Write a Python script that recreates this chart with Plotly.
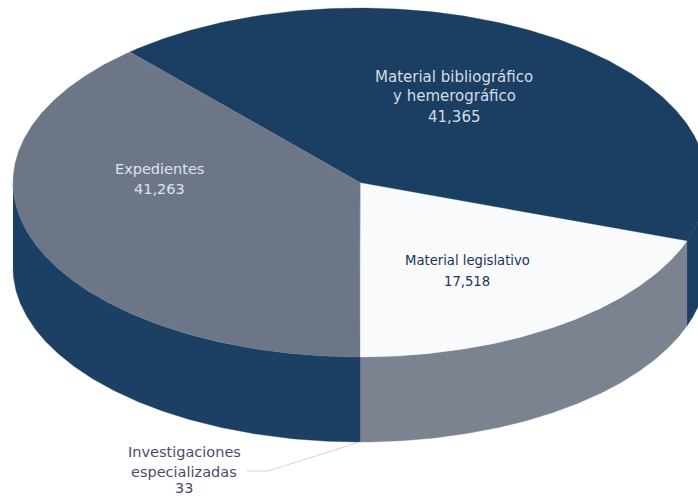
import numpy as np
import plotly.graph_objects as go

# Data
categories = [["Material legislativo"], ["Material bibliográfico", "y hemerográfico"], ["Expedientes"], ["Investigaciones", "especializadas"]]
values = [17518, 41365, 41263, 33]
value_labels = ["17,518", "41,365", "41,263", "33"]
top_colors = ["#f8fafc", "#1a3f63", "#6c7686", "#6c7686"]
side_colors = ["#7b8391", "#1a3f63", "#1b4064", "#1b4064"]
text_colors = ["#1a3557", "#d5dbe3", "#dfe3e8", "#4a4d69"]
label_x = [467, 454, 159, 184]
label_y = [[260, 281], [77, 96, 117], [169, 189], [452, 472, 488]]
label_size = [13.2, 15, 14.5, 14.5]

# Projection of the pie
CX, CY, RX, RY, DEPTH, SKEW = 360, 182.5, 347, 174.5, 85, 1.44


def warp(a):
    return np.unwrap(np.arctan2(SKEW * np.sin(a), np.cos(a)))


def project(a, dz=0.0):
    return CX + RX * np.sin(a), CY + RY * np.cos(a) + dz


total = sum(values)
edges = np.concatenate([[0], np.cumsum(values)]) / total * 2 * np.pi

fig = go.Figure()


def poly(x, y, color, width=0.6):
    fig.add_trace(go.Scatter(x=x, y=y, mode="lines", fill="toself", fillcolor=color,
                             line=dict(color=color, width=width), hoverinfo="skip", showlegend=False))


# Side walls (only the front half of the rim is visible)
for i in range(len(values)):
    a = warp(np.linspace(edges[i], edges[i + 1], 300))
    a = np.where(a < 0, a + 2 * np.pi, a)
    shifted = np.where(a > np.pi, a - 2 * np.pi, a)
    s = np.sort(shifted[np.abs(shifted) <= np.pi / 2])
    if s.size < 2:
        continue
    x1, y1 = project(s, DEPTH)
    x0, y0 = project(s)
    poly(np.concatenate([x0, x1[::-1]]), np.concatenate([y0, y1[::-1]]), side_colors[i], 0.4)

# Top face
for i in range(len(values)):
    a = warp(np.linspace(edges[i], edges[i + 1], 300))
    x, y = project(a)
    poly(np.concatenate([[CX], x, [CX]]), np.concatenate([[CY], y, [CY]]), top_colors[i], 0.3)

# Leader line of the smallest slice
lx, ly = project(np.array([edges[-1]]), DEPTH)
fig.add_trace(go.Scatter(x=[lx[0], 268, 247], y=[ly[0], 471, 471], mode="lines",
                         line=dict(color="#d9d2cf", width=1), hoverinfo="skip", showlegend=False))

for c, v, col, x, ys, sz in zip(categories, value_labels, text_colors, label_x, label_y, label_size):
    for line, y in zip(c + [v], ys):
        fig.add_annotation(x=x, y=y, text=line, showarrow=False, align="center",
                           font=dict(family="DejaVu Sans", size=sz, color=col), xanchor="center", yanchor="middle")

fig.update_xaxes(visible=False, range=[0, 698], fixedrange=True)
fig.update_yaxes(visible=False, range=[499, 0], fixedrange=True)
fig.update_layout(width=698, height=499, margin=dict(l=0, r=0, t=0, b=0),
                  paper_bgcolor="white", plot_bgcolor="white")
fig.write_html("out.html", config={"displayModeBar": False},
               post_script="document.body.style.margin='0';document.documentElement.style.overflow='hidden';")
